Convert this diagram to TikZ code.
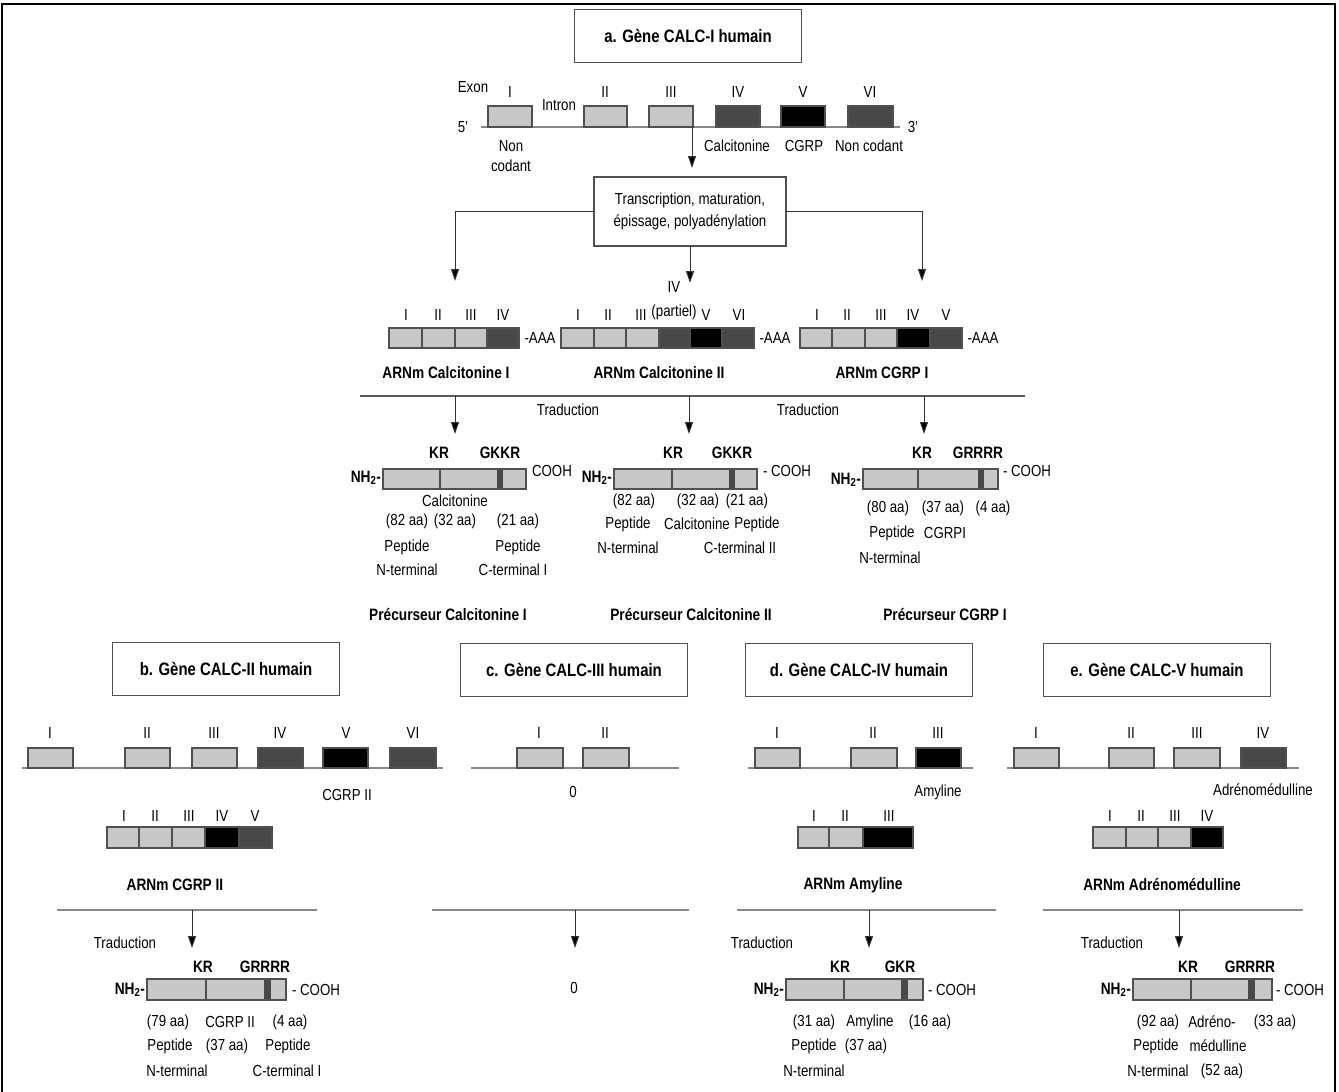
\documentclass[tikz,border=0pt]{standalone}
\usepackage{fontspec}
\setmainfont{Liberation Sans}[FakeStretch=0.83]
\usetikzlibrary{arrows.meta}
\definecolor{lg}{RGB}{200,200,200}
\definecolor{dg}{RGB}{72,72,72}
\definecolor{ln}{RGB}{135,135,135}
\definecolor{bd}{RGB}{80,80,80}
\newcommand\exbx[5]{\draw[ex,fill=#5] (#1,#3) rectangle (#2,#4);}
\newcommand\protbar[7]{%
  \draw[ex,fill=lg] (#1,#6) rectangle (#5,#7);
  \draw[bd,line width=1.2pt] (#2,#6) -- (#2,#7);
  \fill[dg] (#3,#6) rectangle (#4,#7);
  \draw[ex] (#1,#6) rectangle (#5,#7);}
\tikzset{
 every node/.style={inner sep=0pt,outer sep=0pt},
 t/.style={font=\fontsize{16}{18}\selectfont},
 tb/.style={font=\fontsize{16.5}{18}\selectfont\bfseries},
 ttl/.style={draw=bd,line width=1.2pt,minimum width=227pt,minimum height=53pt,
   font=\fontsize{18}{20}\selectfont\bfseries},
 gl/.style={draw=ln,line width=1.8pt},
 ex/.style={draw=bd,line width=1.2pt},
 arr/.style={draw=black!80,line width=1pt,-{Triangle[width=8pt,length=12pt,fill=black]}},
}
\begin{document}
\begin{tikzpicture}[x=1pt,y=-1pt]
\useasboundingbox (0,0) rectangle (1339,1092);
\fill[white] (0,0) rectangle (1339,1092);
\draw[line width=1.5pt] (2,1092) -- (2,4) -- (1335,4) -- (1335,1092);

%% ---------------- a -----------------
\node[ttl] (ta) at (688,36) {a. Gène CALC-I humain};
\node[t] (exonlbl) at (473,87) {Exon};
\node[t] (intron) at (559,105) {Intron};
\node[t] (p5) at (463,127) {5'};
\node[t] (p3) at (913,127) {3'};
\coordinate (gla) at (481,127); \coordinate (glb) at (900,127);
\draw[gl] (gla) -- (glb);
\exbx{488}{532}{106}{127}{lg}
\exbx{584}{627}{106}{127}{lg}
\exbx{649}{693}{106}{127}{lg}
\exbx{716}{760}{106}{127}{dg}
\exbx{781}{825}{106}{127}{black}
\exbx{848}{893}{106}{127}{dg}
\node[t] (aI) at (510,92) {I};
\node[t] (aII) at (605,92) {II};
\node[t] (aIII) at (671,92) {III};
\node[t] (aIV) at (738,92) {IV};
\node[t] (aV) at (803,92) {V};
\node[t] (aVI) at (870,92) {VI};
\node[t,align=center] (nc1) at (511,156) {Non\\[2pt]codant};
\node[t] (calc) at (737,146) {Calcitonine};
\node[t] (cgrp) at (804,146) {CGRP};
\node[t] (nc2) at (869,146) {Non codant};

\node[draw=bd,line width=1.2pt,t,align=center,minimum width=192pt,minimum height=69pt]
  (trans) at (690,211.5) {Transcription, maturation,\\[4pt]épissage, polyadénylation};
\coordinate (ga) at (692,127); \coordinate (gb) at (692,168);
\draw[arr] (ga) -- (gb);
\coordinate (m1) at (455,281); \coordinate (m2) at (690,283); \coordinate (m3) at (922,281);
\draw[arr] (trans.west) -| (m1);
\draw[arr] (trans.east) -| (m3);
\draw[arr] (trans.south) -- (m2);

% mRNA rows
\exbx{389}{422}{328}{348}{lg}\exbx{422}{455}{328}{348}{lg}\exbx{455}{487}{328}{348}{lg}\exbx{487}{519}{328}{348}{dg}
\node[t] (r1I) at (406,315) {I};
\node[t] (r1II) at (438,315) {II};
\node[t] (r1III) at (471,315) {III};
\node[t] (r1IV) at (503,315) {IV};
\node[t] (aaa1) at (540,338) {-AAA};
\exbx{561}{594}{328}{348}{lg}\exbx{594}{626}{328}{348}{lg}\exbx{626}{659}{328}{348}{lg}\exbx{659}{690}{328}{348}{dg}\exbx{690}{722}{328}{348}{black}\exbx{722}{754}{328}{348}{dg}
\node[t] (r2I) at (578,315) {I};
\node[t] (r2II) at (608,315) {II};
\node[t] (r2III) at (641,315) {III};
\node[t] (r2IV) at (674,287) {IV};
\node[t] (r2p) at (674,312) {(partiel)};
\node[t] (r2V) at (706,315) {V};
\node[t] (r2VI) at (739,315) {VI};
\node[t] (aaa2) at (775,338) {-AAA};
\exbx{800}{832}{328}{348}{lg}\exbx{832}{865}{328}{348}{lg}\exbx{865}{897}{328}{348}{lg}\exbx{897}{930}{328}{348}{black}\exbx{930}{962}{328}{348}{dg}
\node[t] (r3I) at (817,315) {I};
\node[t] (r3II) at (847,315) {II};
\node[t] (r3III) at (881,315) {III};
\node[t] (r3IV) at (913,315) {IV};
\node[t] (r3V) at (946,315) {V};
\node[t] (aaa3) at (983,338) {-AAA};
\node[tb] (arn1) at (446,373) {ARNm Calcitonine I};
\node[tb] (arn2) at (659,373) {ARNm Calcitonine II};
\node[tb] (arn3) at (882,373) {ARNm CGRP I};

\coordinate (tla) at (360,396); \coordinate (tlb) at (1025,396);
\draw[draw=black!65,line width=1.8pt] (tla) -- (tlb);
\node[t] (trad1) at (568,410) {Traduction};
\node[t] (trad2) at (808,410) {Traduction};
\coordinate (p1a) at (455,396); \coordinate (p1b) at (455,434);
\coordinate (p2a) at (689,396); \coordinate (p2b) at (689,434);
\coordinate (p3a) at (924,396); \coordinate (p3b) at (924,434);
\draw[arr] (p1a) -- (p1b);
\draw[arr] (p2a) -- (p2b);
\draw[arr] (p3a) -- (p3b);

% protein 1
\protbar{383}{440}{497}{503}{526}{469}{489}
\node[tb,anchor=east] (nh1) at (381,478) {NH\textsubscript{2}-};
\node[t,anchor=west] (co1) at (532,471) {COOH};
\node[tb] (kr1) at (439,453) {KR};
\node[tb] (gk1) at (500,453) {GKKR};
\node[t] (q1a) at (455,501) {Calcitonine};
\node[t] (q1b) at (407,521) {(82 aa)};
\node[t] (q1c) at (455,521) {(32 aa)};
\node[t] (q1d) at (518,521) {(21 aa)};
\node[t] (q1e) at (407,547) {Peptide};
\node[t] (q1f) at (518,547) {Peptide};
\node[t] (q1g) at (407,570) {N-terminal};
\node[t] (q1h) at (513,570) {C-terminal I};
\node[tb] (pre1) at (448,615) {Précurseur Calcitonine I};
% protein 2
\protbar{614}{672}{729}{735}{757}{469}{489}
\node[tb,anchor=east] (nh2) at (612,478) {NH\textsubscript{2}-};
\node[t,anchor=west] (co2) at (763,471) {- COOH};
\node[tb] (kr2) at (673,453) {KR};
\node[tb] (gk2) at (732,453) {GKKR};
\node[t] (q2a) at (634,501) {(82 aa)};
\node[t] (q2b) at (698,501) {(32 aa)};
\node[t] (q2c) at (747,501) {(21 aa)};
\node[t] (q2d) at (628,524) {Peptide};
\node[t] (q2e) at (697,524) {Calcitonine};
\node[t] (q2f) at (757,524) {Peptide};
\node[t] (q2g) at (628,548) {N-terminal};
\node[t] (q2h) at (740,548) {C-terminal II};
\node[tb] (pre2) at (691,615) {Précurseur Calcitonine II};
% protein 3
\protbar{863}{918}{978}{984}{998}{469}{489}
\node[tb,anchor=east] (nh3) at (861,480) {NH\textsubscript{2}-};
\node[t,anchor=west] (co3) at (1003,471) {- COOH};
\node[tb] (kr3) at (922,453) {KR};
\node[tb] (gk3) at (978,453) {GRRRR};
\node[t] (q3a) at (888,508) {(80 aa)};
\node[t] (q3b) at (943,508) {(37 aa)};
\node[t] (q3c) at (993,508) {(4 aa)};
\node[t] (q3d) at (892,533) {Peptide};
\node[t] (q3e) at (945,533) {CGRPI};
\node[t] (q3f) at (890,558) {N-terminal};
\node[tb] (pre3) at (945,615) {Précurseur CGRP I};

%% ---------------- b -----------------
\node[ttl] (tb) at (226,669) {b. Gène CALC-II humain};
\coordinate (blA) at (22,768); \coordinate (blB) at (443,768);
\draw[gl] (blA) -- (blB);
\exbx{28}{73}{748}{768}{lg}
\exbx{125}{170}{748}{768}{lg}
\exbx{192}{237}{748}{768}{lg}
\exbx{258}{303}{748}{768}{dg}
\exbx{323}{368}{748}{768}{black}
\exbx{390}{436}{748}{768}{dg}
\node[t] (bI) at (50,733) {I};
\node[t] (bII) at (147,733) {II};
\node[t] (bIII) at (214,733) {III};
\node[t] (bIV) at (280,733) {IV};
\node[t] (bV) at (346,733) {V};
\node[t] (bVI) at (413,733) {VI};
\node[t] (bcg) at (347,795) {CGRP II};
\exbx{107}{139}{827}{848}{lg}\exbx{139}{172}{827}{848}{lg}\exbx{172}{205}{827}{848}{lg}\exbx{205}{239}{827}{848}{black}\exbx{239}{272}{827}{848}{dg}
\node[t] (bmI) at (124,816) {I};
\node[t] (bmII) at (155,816) {II};
\node[t] (bmIII) at (189,816) {III};
\node[t] (bmIV) at (222,816) {IV};
\node[t] (bmV) at (255,816) {V};
\node[tb] (barn) at (175,885) {ARNm CGRP II};
\coordinate (btA) at (57,910); \coordinate (btB) at (317,910);
\draw[gl] (btA) -- (btB);
\coordinate (bpa) at (192,910); \coordinate (bpb) at (192,948);
\draw[arr] (bpa) -- (bpb);
\node[t] (btrad) at (125,943) {Traduction};
\protbar{147}{206}{264}{271}{286}{979}{1000}
\node[tb,anchor=east] (bnh) at (145,990) {NH\textsubscript{2}-};
\node[t,anchor=west] (bco) at (292,990) {- COOH};
\node[tb] (bkr) at (203,967) {KR};
\node[tb] (bgr) at (265,967) {GRRRR};
\node[t] (bq1) at (168,1022) {(79 aa)};
\node[t] (bq2) at (230,1022) {CGRP II};
\node[t] (bq3) at (290,1022) {(4 aa)};
\node[t] (bq4) at (170,1046) {Peptide};
\node[t] (bq5) at (227,1046) {(37 aa)};
\node[t] (bq6) at (288,1046) {Peptide};
\node[t] (bq7) at (177,1071) {N-terminal};
\node[t] (bq8) at (287,1071) {C-terminal I};

%% ---------------- c -----------------
\node[ttl] (tc) at (574,670) {c. Gène CALC-III humain};
\coordinate (clA) at (471,768); \coordinate (clB) at (679,768);
\draw[gl] (clA) -- (clB);
\exbx{517}{563}{748}{768}{lg}
\exbx{583}{629}{748}{768}{lg}
\node[t] (cI) at (539,733) {I};
\node[t] (cII) at (605,733) {II};
\node[t] (c0) at (573,792) {0};
\coordinate (ctA) at (432,910); \coordinate (ctB) at (689,910);
\draw[gl] (ctA) -- (ctB);
\coordinate (cpa) at (575,910); \coordinate (cpb) at (575,948);
\draw[arr] (cpa) -- (cpb);
\node[t] (c00) at (574,988) {0};

%% ---------------- d -----------------
\node[ttl] (td) at (859,670) {d. Gène CALC-IV humain};
\coordinate (dlA) at (748,768); \coordinate (dlB) at (973,768);
\draw[gl] (dlA) -- (dlB);
\exbx{755}{800}{748}{768}{lg}
\exbx{851}{897}{748}{768}{lg}
\exbx{916}{961}{748}{768}{black}
\node[t] (dI) at (777,733) {I};
\node[t] (dII) at (873,733) {II};
\node[t] (dIII) at (938,733) {III};
\node[t] (dam) at (938,792) {Amyline};
\exbx{798}{829}{827}{848}{lg}\exbx{829}{863}{827}{848}{lg}\exbx{863}{913}{827}{848}{black}
\node[t] (dmI) at (814,816) {I};
\node[t] (dmII) at (845,816) {II};
\node[t] (dmIII) at (889,816) {III};
\node[tb] (darn) at (853,885) {ARNm Amyline};
\coordinate (dtA) at (737,910); \coordinate (dtB) at (996,910);
\draw[gl] (dtA) -- (dtB);
\coordinate (dpa) at (869,910); \coordinate (dpb) at (869,948);
\draw[arr] (dpa) -- (dpb);
\node[t] (dtrad) at (762,943) {Traduction};
\protbar{786}{844}{901}{908}{923}{979}{1000}
\node[tb,anchor=east] (dnh) at (784,990) {NH\textsubscript{2}-};
\node[t,anchor=west] (dco) at (928,990) {- COOH};
\node[tb] (dkr) at (840,967) {KR};
\node[tb] (dgr) at (900,967) {GKR};
\node[t] (dq1) at (814,1022) {(31 aa)};
\node[t] (dq2) at (870,1022) {Amyline};
\node[t] (dq3) at (930,1022) {(16 aa)};
\node[t] (dq4) at (814,1046) {Peptide};
\node[t] (dq5) at (866,1046) {(37 aa)};
\node[t] (dq6) at (814,1071) {N-terminal};

%% ---------------- e -----------------
\node[ttl] (te) at (1157,670) {e. Gène CALC-V humain};
\coordinate (elA) at (1007,768); \coordinate (elB) at (1299,768);
\draw[gl] (elA) -- (elB);
\exbx{1014}{1059}{748}{768}{lg}
\exbx{1109}{1154}{748}{768}{lg}
\exbx{1174}{1220}{748}{768}{lg}
\exbx{1241}{1286}{748}{768}{dg}
\node[t] (eI) at (1036,733) {I};
\node[t] (eII) at (1131,733) {II};
\node[t] (eIII) at (1197,733) {III};
\node[t] (eIV) at (1263,733) {IV};
\node[t] (ead) at (1263,790) {Adrénomédulline};
\exbx{1093}{1126}{827}{848}{lg}\exbx{1126}{1158}{827}{848}{lg}\exbx{1158}{1191}{827}{848}{lg}\exbx{1191}{1223}{827}{848}{black}
\node[t] (emI) at (1110,816) {I};
\node[t] (emII) at (1141,816) {II};
\node[t] (emIII) at (1175,816) {III};
\node[t] (emIV) at (1207,816) {IV};
\node[tb] (earn) at (1162,885) {ARNm Adrénomédulline};
\coordinate (etA) at (1043,910); \coordinate (etB) at (1303,910);
\draw[gl] (etA) -- (etB);
\coordinate (epa) at (1179,910); \coordinate (epb) at (1179,948);
\draw[arr] (epa) -- (epb);
\node[t] (etrad) at (1112,943) {Traduction};
\protbar{1133}{1191}{1248}{1255}{1272}{979}{1000}
\node[tb,anchor=east] (enh) at (1131,990) {NH\textsubscript{2}-};
\node[t,anchor=west] (eco) at (1276,990) {- COOH};
\node[tb] (ekr) at (1188,967) {KR};
\node[tb] (egr) at (1250,967) {GRRRR};
\node[t] (eq1) at (1158,1022) {(92 aa)};
\node[t] (eq2) at (1212,1022) {Adréno-};
\node[t] (eq3) at (1275,1022) {(33 aa)};
\node[t] (eq4) at (1156,1046) {Peptide};
\node[t] (eq5) at (1218,1046) {médulline};
\node[t] (eq6) at (1158,1071) {N-terminal};
\node[t] (eq7) at (1222,1071) {(52 aa)};
\end{tikzpicture}
\end{document}
